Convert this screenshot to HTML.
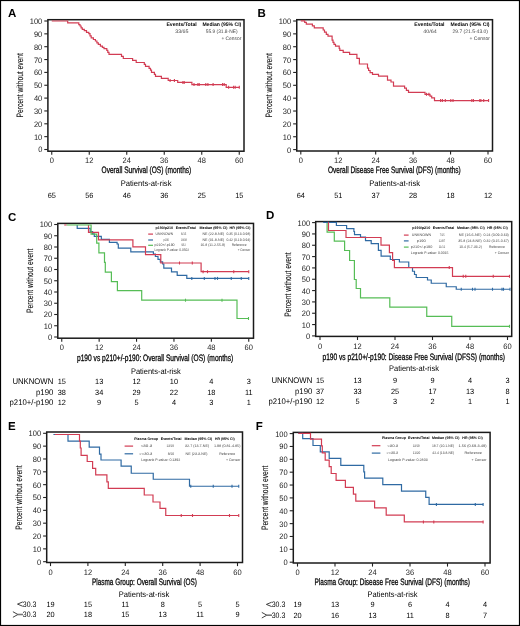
<!DOCTYPE html>
<html><head><meta charset="utf-8"><style>
html,body{margin:0;padding:0;background:#fff;}
svg{display:block;will-change:transform;}
text{font-family:"Liberation Sans",sans-serif;text-rendering:geometricPrecision;}
</style></head><body>
<svg width="520" height="626" viewBox="0 0 520 626">
<rect x="0" y="0" width="520" height="626" fill="#fff"/>
<rect x="0.5" y="0.5" width="519" height="625" fill="none" stroke="#000" stroke-width="1.2"/>
<text x="8.00" y="17.40" font-size="11.5" font-weight="bold" fill="#000">A</text>
<rect x="47.9" y="19.7" width="196.1" height="131.5" fill="none" stroke="#1a1a1a" stroke-width="1.5"/>
<line x1="44.3" y1="149.50" x2="47.9" y2="149.50" stroke="#222" stroke-width="1.1"/>
<text x="42.30" y="152.45" font-size="7.9" text-anchor="end" textLength="4.17" lengthAdjust="spacingAndGlyphs" fill="#222">0</text>
<line x1="44.3" y1="136.65" x2="47.9" y2="136.65" stroke="#222" stroke-width="1.1"/>
<text x="42.30" y="139.60" font-size="7.9" text-anchor="end" textLength="8.35" lengthAdjust="spacingAndGlyphs" fill="#222">10</text>
<line x1="44.3" y1="123.80" x2="47.9" y2="123.80" stroke="#222" stroke-width="1.1"/>
<text x="42.30" y="126.75" font-size="7.9" text-anchor="end" textLength="8.35" lengthAdjust="spacingAndGlyphs" fill="#222">20</text>
<line x1="44.3" y1="110.95" x2="47.9" y2="110.95" stroke="#222" stroke-width="1.1"/>
<text x="42.30" y="113.90" font-size="7.9" text-anchor="end" textLength="8.35" lengthAdjust="spacingAndGlyphs" fill="#222">30</text>
<line x1="44.3" y1="98.10" x2="47.9" y2="98.10" stroke="#222" stroke-width="1.1"/>
<text x="42.30" y="101.05" font-size="7.9" text-anchor="end" textLength="8.35" lengthAdjust="spacingAndGlyphs" fill="#222">40</text>
<line x1="44.3" y1="85.25" x2="47.9" y2="85.25" stroke="#222" stroke-width="1.1"/>
<text x="42.30" y="88.20" font-size="7.9" text-anchor="end" textLength="8.35" lengthAdjust="spacingAndGlyphs" fill="#222">50</text>
<line x1="44.3" y1="72.40" x2="47.9" y2="72.40" stroke="#222" stroke-width="1.1"/>
<text x="42.30" y="75.35" font-size="7.9" text-anchor="end" textLength="8.35" lengthAdjust="spacingAndGlyphs" fill="#222">60</text>
<line x1="44.3" y1="59.55" x2="47.9" y2="59.55" stroke="#222" stroke-width="1.1"/>
<text x="42.30" y="62.50" font-size="7.9" text-anchor="end" textLength="8.35" lengthAdjust="spacingAndGlyphs" fill="#222">70</text>
<line x1="44.3" y1="46.70" x2="47.9" y2="46.70" stroke="#222" stroke-width="1.1"/>
<text x="42.30" y="49.65" font-size="7.9" text-anchor="end" textLength="8.35" lengthAdjust="spacingAndGlyphs" fill="#222">80</text>
<line x1="44.3" y1="33.85" x2="47.9" y2="33.85" stroke="#222" stroke-width="1.1"/>
<text x="42.30" y="36.80" font-size="7.9" text-anchor="end" textLength="8.35" lengthAdjust="spacingAndGlyphs" fill="#222">90</text>
<line x1="44.3" y1="21.00" x2="47.9" y2="21.00" stroke="#222" stroke-width="1.1"/>
<text x="42.30" y="23.95" font-size="7.9" text-anchor="end" textLength="12.52" lengthAdjust="spacingAndGlyphs" fill="#222">100</text>
<line x1="51.75" y1="151.2" x2="51.75" y2="154.79999999999998" stroke="#222" stroke-width="1.1"/>
<text x="51.75" y="162.80" font-size="7.9" text-anchor="middle" textLength="4.17" lengthAdjust="spacingAndGlyphs" fill="#222">0</text>
<line x1="89.25" y1="151.2" x2="89.25" y2="154.79999999999998" stroke="#222" stroke-width="1.1"/>
<text x="89.25" y="162.80" font-size="7.9" text-anchor="middle" textLength="8.35" lengthAdjust="spacingAndGlyphs" fill="#222">12</text>
<line x1="126.75" y1="151.2" x2="126.75" y2="154.79999999999998" stroke="#222" stroke-width="1.1"/>
<text x="126.75" y="162.80" font-size="7.9" text-anchor="middle" textLength="8.35" lengthAdjust="spacingAndGlyphs" fill="#222">24</text>
<line x1="164.25" y1="151.2" x2="164.25" y2="154.79999999999998" stroke="#222" stroke-width="1.1"/>
<text x="164.25" y="162.80" font-size="7.9" text-anchor="middle" textLength="8.35" lengthAdjust="spacingAndGlyphs" fill="#222">36</text>
<line x1="201.75" y1="151.2" x2="201.75" y2="154.79999999999998" stroke="#222" stroke-width="1.1"/>
<text x="201.75" y="162.80" font-size="7.9" text-anchor="middle" textLength="8.35" lengthAdjust="spacingAndGlyphs" fill="#222">48</text>
<line x1="239.25" y1="151.2" x2="239.25" y2="154.79999999999998" stroke="#222" stroke-width="1.1"/>
<text x="239.25" y="162.80" font-size="7.9" text-anchor="middle" textLength="8.35" lengthAdjust="spacingAndGlyphs" fill="#222">60</text>
<text x="0" y="0" font-size="9.3" text-anchor="middle" textLength="64.4" lengthAdjust="spacingAndGlyphs" fill="#111" stroke="#111" stroke-width="0.12" transform="translate(22.80,85.25) rotate(-90)">Percent without event</text>
<text x="101.50" y="172.70" font-size="9.3" textLength="89.80" lengthAdjust="spacingAndGlyphs" stroke="#111" stroke-width="0.3">Overall Survival (OS) (months)</text>
<text x="120.70" y="186.30" font-size="8.1" textLength="50.80" lengthAdjust="spacingAndGlyphs">Patients-at-risk</text>
<text x="51.75" y="197.70" font-size="7.6" text-anchor="middle" textLength="8.20" lengthAdjust="spacingAndGlyphs">65</text>
<text x="89.25" y="197.70" font-size="7.6" text-anchor="middle" textLength="8.20" lengthAdjust="spacingAndGlyphs">56</text>
<text x="126.75" y="197.70" font-size="7.6" text-anchor="middle" textLength="8.20" lengthAdjust="spacingAndGlyphs">46</text>
<text x="164.25" y="197.70" font-size="7.6" text-anchor="middle" textLength="8.20" lengthAdjust="spacingAndGlyphs">36</text>
<text x="201.75" y="197.70" font-size="7.6" text-anchor="middle" textLength="8.20" lengthAdjust="spacingAndGlyphs">25</text>
<text x="239.25" y="197.70" font-size="7.6" text-anchor="middle" textLength="8.20" lengthAdjust="spacingAndGlyphs">15</text>
<text x="166.40" y="26.20" font-size="5.2" font-weight="bold" textLength="30.30" lengthAdjust="spacingAndGlyphs" fill="#000">Events/Total</text>
<text x="202.40" y="26.20" font-size="5.2" font-weight="bold" textLength="38.90" lengthAdjust="spacingAndGlyphs" fill="#000">Median (95% CI)</text>
<text x="175.20" y="32.80" font-size="5.0" textLength="13.30" lengthAdjust="spacingAndGlyphs" fill="#444">33/65</text>
<text x="205.80" y="32.80" font-size="5.0" textLength="31.70" lengthAdjust="spacingAndGlyphs" fill="#444">55.9 (31.8-NE)</text>
<text x="221.40" y="39.60" font-size="5.0" textLength="19.90" lengthAdjust="spacingAndGlyphs" fill="#444">+ Censor</text>
<path d="M51.75,21.00 67.70,21.00 67.70,22.90 78.80,22.90 78.80,24.60 80.00,24.60 80.00,26.00 81.10,26.00 81.10,27.80 82.30,27.80 82.30,29.40 84.30,29.40 84.30,30.60 86.50,30.60 86.50,32.40 88.80,32.40 88.80,33.60 90.00,33.60 90.00,35.80 91.20,35.80 91.20,37.90 93.40,37.90 93.40,39.50 95.40,39.50 95.40,41.00 96.90,41.00 96.90,42.80 98.30,42.80 98.30,44.40 100.40,44.40 100.40,46.20 102.40,46.20 102.40,47.40 104.00,47.40 104.00,48.60 106.80,48.60 106.80,50.40 107.80,50.40 107.80,52.40 109.00,52.40 109.00,54.30 121.50,54.30 121.50,56.30 123.30,56.30 123.30,58.50 132.60,58.50 132.60,60.40 136.20,60.40 136.20,62.50 144.30,62.50 144.30,64.30 145.50,64.30 145.50,66.30 149.10,66.30 149.10,68.30 150.50,68.30 150.50,70.20 151.50,70.20 151.50,72.30 154.40,72.30 154.40,74.30 155.50,74.30 155.50,76.40 161.40,76.40 161.40,78.30 168.20,78.30 168.20,80.50 177.70,80.50 177.70,82.40 191.90,82.40 191.90,84.60 226.20,84.60 226.20,87.30 239.40,87.30" fill="none" stroke="#d23c53" stroke-width="1.2"/>
<line x1="170.10" y1="79.00" x2="170.10" y2="82.00" stroke="#d23c53" stroke-width="1.1"/>
<line x1="174.40" y1="79.00" x2="174.40" y2="82.00" stroke="#d23c53" stroke-width="1.1"/>
<line x1="182.90" y1="80.90" x2="182.90" y2="83.90" stroke="#d23c53" stroke-width="1.1"/>
<line x1="184.20" y1="80.90" x2="184.20" y2="83.90" stroke="#d23c53" stroke-width="1.1"/>
<line x1="194.00" y1="83.10" x2="194.00" y2="86.10" stroke="#d23c53" stroke-width="1.1"/>
<line x1="197.90" y1="83.10" x2="197.90" y2="86.10" stroke="#d23c53" stroke-width="1.1"/>
<line x1="199.20" y1="83.10" x2="199.20" y2="86.10" stroke="#d23c53" stroke-width="1.1"/>
<line x1="205.80" y1="83.10" x2="205.80" y2="86.10" stroke="#d23c53" stroke-width="1.1"/>
<line x1="207.90" y1="83.10" x2="207.90" y2="86.10" stroke="#d23c53" stroke-width="1.1"/>
<line x1="213.10" y1="83.10" x2="213.10" y2="86.10" stroke="#d23c53" stroke-width="1.1"/>
<line x1="222.60" y1="83.10" x2="222.60" y2="86.10" stroke="#d23c53" stroke-width="1.1"/>
<line x1="224.20" y1="83.10" x2="224.20" y2="86.10" stroke="#d23c53" stroke-width="1.1"/>
<line x1="228.60" y1="85.80" x2="228.60" y2="88.80" stroke="#d23c53" stroke-width="1.1"/>
<line x1="233.60" y1="85.80" x2="233.60" y2="88.80" stroke="#d23c53" stroke-width="1.1"/>
<line x1="235.20" y1="85.80" x2="235.20" y2="88.80" stroke="#d23c53" stroke-width="1.1"/>
<line x1="239.30" y1="85.80" x2="239.30" y2="88.80" stroke="#d23c53" stroke-width="1.1"/>
<text x="257.60" y="17.30" font-size="11.5" font-weight="bold" fill="#000">B</text>
<rect x="296.75" y="19.7" width="195.75" height="131.3" fill="none" stroke="#1a1a1a" stroke-width="1.5"/>
<line x1="293.15" y1="149.60" x2="296.75" y2="149.60" stroke="#222" stroke-width="1.1"/>
<text x="291.15" y="152.55" font-size="7.9" text-anchor="end" textLength="4.17" lengthAdjust="spacingAndGlyphs" fill="#222">0</text>
<line x1="293.15" y1="136.74" x2="296.75" y2="136.74" stroke="#222" stroke-width="1.1"/>
<text x="291.15" y="139.69" font-size="7.9" text-anchor="end" textLength="8.35" lengthAdjust="spacingAndGlyphs" fill="#222">10</text>
<line x1="293.15" y1="123.88" x2="296.75" y2="123.88" stroke="#222" stroke-width="1.1"/>
<text x="291.15" y="126.83" font-size="7.9" text-anchor="end" textLength="8.35" lengthAdjust="spacingAndGlyphs" fill="#222">20</text>
<line x1="293.15" y1="111.02" x2="296.75" y2="111.02" stroke="#222" stroke-width="1.1"/>
<text x="291.15" y="113.97" font-size="7.9" text-anchor="end" textLength="8.35" lengthAdjust="spacingAndGlyphs" fill="#222">30</text>
<line x1="293.15" y1="98.16" x2="296.75" y2="98.16" stroke="#222" stroke-width="1.1"/>
<text x="291.15" y="101.11" font-size="7.9" text-anchor="end" textLength="8.35" lengthAdjust="spacingAndGlyphs" fill="#222">40</text>
<line x1="293.15" y1="85.30" x2="296.75" y2="85.30" stroke="#222" stroke-width="1.1"/>
<text x="291.15" y="88.25" font-size="7.9" text-anchor="end" textLength="8.35" lengthAdjust="spacingAndGlyphs" fill="#222">50</text>
<line x1="293.15" y1="72.44" x2="296.75" y2="72.44" stroke="#222" stroke-width="1.1"/>
<text x="291.15" y="75.39" font-size="7.9" text-anchor="end" textLength="8.35" lengthAdjust="spacingAndGlyphs" fill="#222">60</text>
<line x1="293.15" y1="59.58" x2="296.75" y2="59.58" stroke="#222" stroke-width="1.1"/>
<text x="291.15" y="62.53" font-size="7.9" text-anchor="end" textLength="8.35" lengthAdjust="spacingAndGlyphs" fill="#222">70</text>
<line x1="293.15" y1="46.72" x2="296.75" y2="46.72" stroke="#222" stroke-width="1.1"/>
<text x="291.15" y="49.67" font-size="7.9" text-anchor="end" textLength="8.35" lengthAdjust="spacingAndGlyphs" fill="#222">80</text>
<line x1="293.15" y1="33.86" x2="296.75" y2="33.86" stroke="#222" stroke-width="1.1"/>
<text x="291.15" y="36.81" font-size="7.9" text-anchor="end" textLength="8.35" lengthAdjust="spacingAndGlyphs" fill="#222">90</text>
<line x1="293.15" y1="21.00" x2="296.75" y2="21.00" stroke="#222" stroke-width="1.1"/>
<text x="291.15" y="23.95" font-size="7.9" text-anchor="end" textLength="12.52" lengthAdjust="spacingAndGlyphs" fill="#222">100</text>
<line x1="300.80" y1="151.0" x2="300.80" y2="154.6" stroke="#222" stroke-width="1.1"/>
<text x="300.80" y="162.60" font-size="7.9" text-anchor="middle" textLength="4.17" lengthAdjust="spacingAndGlyphs" fill="#222">0</text>
<line x1="338.24" y1="151.0" x2="338.24" y2="154.6" stroke="#222" stroke-width="1.1"/>
<text x="338.24" y="162.60" font-size="7.9" text-anchor="middle" textLength="8.35" lengthAdjust="spacingAndGlyphs" fill="#222">12</text>
<line x1="375.68" y1="151.0" x2="375.68" y2="154.6" stroke="#222" stroke-width="1.1"/>
<text x="375.68" y="162.60" font-size="7.9" text-anchor="middle" textLength="8.35" lengthAdjust="spacingAndGlyphs" fill="#222">24</text>
<line x1="413.12" y1="151.0" x2="413.12" y2="154.6" stroke="#222" stroke-width="1.1"/>
<text x="413.12" y="162.60" font-size="7.9" text-anchor="middle" textLength="8.35" lengthAdjust="spacingAndGlyphs" fill="#222">36</text>
<line x1="450.56" y1="151.0" x2="450.56" y2="154.6" stroke="#222" stroke-width="1.1"/>
<text x="450.56" y="162.60" font-size="7.9" text-anchor="middle" textLength="8.35" lengthAdjust="spacingAndGlyphs" fill="#222">48</text>
<line x1="488.00" y1="151.0" x2="488.00" y2="154.6" stroke="#222" stroke-width="1.1"/>
<text x="488.00" y="162.60" font-size="7.9" text-anchor="middle" textLength="8.35" lengthAdjust="spacingAndGlyphs" fill="#222">60</text>
<text x="0" y="0" font-size="9.3" text-anchor="middle" textLength="64.4" lengthAdjust="spacingAndGlyphs" fill="#111" stroke="#111" stroke-width="0.12" transform="translate(271.65,85.30) rotate(-90)">Percent without event</text>
<text x="328.00" y="172.70" font-size="9.3" textLength="132.75" lengthAdjust="spacingAndGlyphs" stroke="#111" stroke-width="0.3">Overall Disease Free Survival (DFS) (months)</text>
<text x="369.25" y="186.30" font-size="8.1" textLength="50.75" lengthAdjust="spacingAndGlyphs">Patients-at-risk</text>
<text x="300.80" y="197.70" font-size="7.6" text-anchor="middle" textLength="8.20" lengthAdjust="spacingAndGlyphs">64</text>
<text x="338.24" y="197.70" font-size="7.6" text-anchor="middle" textLength="8.20" lengthAdjust="spacingAndGlyphs">51</text>
<text x="375.68" y="197.70" font-size="7.6" text-anchor="middle" textLength="8.20" lengthAdjust="spacingAndGlyphs">37</text>
<text x="413.12" y="197.70" font-size="7.6" text-anchor="middle" textLength="8.20" lengthAdjust="spacingAndGlyphs">28</text>
<text x="450.56" y="197.70" font-size="7.6" text-anchor="middle" textLength="8.20" lengthAdjust="spacingAndGlyphs">18</text>
<text x="488.00" y="197.70" font-size="7.6" text-anchor="middle" textLength="8.20" lengthAdjust="spacingAndGlyphs">12</text>
<text x="414.25" y="26.20" font-size="5.2" font-weight="bold" textLength="30.25" lengthAdjust="spacingAndGlyphs" fill="#000">Events/Total</text>
<text x="450.50" y="26.20" font-size="5.2" font-weight="bold" textLength="39.00" lengthAdjust="spacingAndGlyphs" fill="#000">Median (95% CI)</text>
<text x="423.25" y="32.60" font-size="5.0" textLength="13.50" lengthAdjust="spacingAndGlyphs" fill="#444">40/64</text>
<text x="452.50" y="32.60" font-size="5.0" textLength="35.50" lengthAdjust="spacingAndGlyphs" fill="#444">29.7 (21.5-43.0)</text>
<text x="469.50" y="39.80" font-size="5.0" textLength="20.50" lengthAdjust="spacingAndGlyphs" fill="#444">+ Censor</text>
<path d="M300.80,20.90 304.70,20.90 304.70,22.40 306.30,22.40 306.30,24.20 312.40,24.20 312.40,25.80 314.30,25.80 314.30,27.90 323.20,27.90 323.20,30.00 324.50,30.00 324.50,32.20 326.30,32.20 326.30,34.30 328.00,34.30 328.00,36.10 332.10,36.10 332.10,40.10 333.00,40.10 333.00,42.40 334.00,42.40 334.00,44.40 335.50,44.40 335.50,46.20 339.20,46.20 339.20,48.30 339.80,48.30 339.80,50.40 343.20,50.40 343.20,52.40 349.60,52.40 349.60,54.30 356.90,54.30 356.90,58.30 359.40,58.30 359.40,64.00 367.50,64.00 367.50,68.10 368.60,68.10 368.60,70.50 370.10,70.50 370.10,72.60 372.50,72.60 372.50,74.40 378.50,74.40 378.50,76.20 387.50,76.20 387.50,80.20 391.00,80.20 391.00,82.00 393.50,82.00 393.50,86.20 404.60,86.20 404.60,88.20 406.40,88.20 406.40,90.40 408.50,90.40 408.50,92.30 425.00,92.30 425.00,94.30 430.00,94.30 430.00,96.20 431.70,96.20 431.70,97.80 434.50,97.80 434.50,100.60 489.00,100.60" fill="none" stroke="#d23c53" stroke-width="1.2"/>
<line x1="426.50" y1="92.80" x2="426.50" y2="95.80" stroke="#d23c53" stroke-width="1.1"/>
<line x1="428.90" y1="92.80" x2="428.90" y2="95.80" stroke="#d23c53" stroke-width="1.1"/>
<line x1="440.60" y1="99.10" x2="440.60" y2="102.10" stroke="#d23c53" stroke-width="1.1"/>
<line x1="442.40" y1="99.10" x2="442.40" y2="102.10" stroke="#d23c53" stroke-width="1.1"/>
<line x1="445.30" y1="99.10" x2="445.30" y2="102.10" stroke="#d23c53" stroke-width="1.1"/>
<line x1="450.80" y1="99.10" x2="450.80" y2="102.10" stroke="#d23c53" stroke-width="1.1"/>
<line x1="453.00" y1="99.10" x2="453.00" y2="102.10" stroke="#d23c53" stroke-width="1.1"/>
<line x1="471.80" y1="99.10" x2="471.80" y2="102.10" stroke="#d23c53" stroke-width="1.1"/>
<line x1="473.40" y1="99.10" x2="473.40" y2="102.10" stroke="#d23c53" stroke-width="1.1"/>
<line x1="479.80" y1="99.10" x2="479.80" y2="102.10" stroke="#d23c53" stroke-width="1.1"/>
<line x1="480.90" y1="99.10" x2="480.90" y2="102.10" stroke="#d23c53" stroke-width="1.1"/>
<line x1="483.70" y1="99.10" x2="483.70" y2="102.10" stroke="#d23c53" stroke-width="1.1"/>
<line x1="488.60" y1="99.10" x2="488.60" y2="102.10" stroke="#d23c53" stroke-width="1.1"/>
<text x="8.00" y="220.80" font-size="11.5" font-weight="bold" fill="#000">C</text>
<rect x="57.8" y="223.4" width="195.7" height="114.79999999999998" fill="none" stroke="#1a1a1a" stroke-width="1.5"/>
<line x1="54.199999999999996" y1="337.00" x2="57.8" y2="337.00" stroke="#222" stroke-width="1.1"/>
<text x="52.20" y="339.95" font-size="7.9" text-anchor="end" textLength="4.17" lengthAdjust="spacingAndGlyphs" fill="#222">0</text>
<line x1="54.199999999999996" y1="325.75" x2="57.8" y2="325.75" stroke="#222" stroke-width="1.1"/>
<text x="52.20" y="328.70" font-size="7.9" text-anchor="end" textLength="8.35" lengthAdjust="spacingAndGlyphs" fill="#222">10</text>
<line x1="54.199999999999996" y1="314.50" x2="57.8" y2="314.50" stroke="#222" stroke-width="1.1"/>
<text x="52.20" y="317.45" font-size="7.9" text-anchor="end" textLength="8.35" lengthAdjust="spacingAndGlyphs" fill="#222">20</text>
<line x1="54.199999999999996" y1="303.25" x2="57.8" y2="303.25" stroke="#222" stroke-width="1.1"/>
<text x="52.20" y="306.20" font-size="7.9" text-anchor="end" textLength="8.35" lengthAdjust="spacingAndGlyphs" fill="#222">30</text>
<line x1="54.199999999999996" y1="292.00" x2="57.8" y2="292.00" stroke="#222" stroke-width="1.1"/>
<text x="52.20" y="294.95" font-size="7.9" text-anchor="end" textLength="8.35" lengthAdjust="spacingAndGlyphs" fill="#222">40</text>
<line x1="54.199999999999996" y1="280.75" x2="57.8" y2="280.75" stroke="#222" stroke-width="1.1"/>
<text x="52.20" y="283.70" font-size="7.9" text-anchor="end" textLength="8.35" lengthAdjust="spacingAndGlyphs" fill="#222">50</text>
<line x1="54.199999999999996" y1="269.50" x2="57.8" y2="269.50" stroke="#222" stroke-width="1.1"/>
<text x="52.20" y="272.45" font-size="7.9" text-anchor="end" textLength="8.35" lengthAdjust="spacingAndGlyphs" fill="#222">60</text>
<line x1="54.199999999999996" y1="258.25" x2="57.8" y2="258.25" stroke="#222" stroke-width="1.1"/>
<text x="52.20" y="261.20" font-size="7.9" text-anchor="end" textLength="8.35" lengthAdjust="spacingAndGlyphs" fill="#222">70</text>
<line x1="54.199999999999996" y1="247.00" x2="57.8" y2="247.00" stroke="#222" stroke-width="1.1"/>
<text x="52.20" y="249.95" font-size="7.9" text-anchor="end" textLength="8.35" lengthAdjust="spacingAndGlyphs" fill="#222">80</text>
<line x1="54.199999999999996" y1="235.75" x2="57.8" y2="235.75" stroke="#222" stroke-width="1.1"/>
<text x="52.20" y="238.70" font-size="7.9" text-anchor="end" textLength="8.35" lengthAdjust="spacingAndGlyphs" fill="#222">90</text>
<line x1="54.199999999999996" y1="224.50" x2="57.8" y2="224.50" stroke="#222" stroke-width="1.1"/>
<text x="52.20" y="227.45" font-size="7.9" text-anchor="end" textLength="12.52" lengthAdjust="spacingAndGlyphs" fill="#222">100</text>
<line x1="61.75" y1="338.2" x2="61.75" y2="341.8" stroke="#222" stroke-width="1.1"/>
<text x="61.75" y="350.30" font-size="7.9" text-anchor="middle" textLength="4.17" lengthAdjust="spacingAndGlyphs" fill="#222">0</text>
<line x1="99.15" y1="338.2" x2="99.15" y2="341.8" stroke="#222" stroke-width="1.1"/>
<text x="99.15" y="350.30" font-size="7.9" text-anchor="middle" textLength="8.35" lengthAdjust="spacingAndGlyphs" fill="#222">12</text>
<line x1="136.55" y1="338.2" x2="136.55" y2="341.8" stroke="#222" stroke-width="1.1"/>
<text x="136.55" y="350.30" font-size="7.9" text-anchor="middle" textLength="8.35" lengthAdjust="spacingAndGlyphs" fill="#222">24</text>
<line x1="173.95" y1="338.2" x2="173.95" y2="341.8" stroke="#222" stroke-width="1.1"/>
<text x="173.95" y="350.30" font-size="7.9" text-anchor="middle" textLength="8.35" lengthAdjust="spacingAndGlyphs" fill="#222">36</text>
<line x1="211.35" y1="338.2" x2="211.35" y2="341.8" stroke="#222" stroke-width="1.1"/>
<text x="211.35" y="350.30" font-size="7.9" text-anchor="middle" textLength="8.35" lengthAdjust="spacingAndGlyphs" fill="#222">48</text>
<line x1="248.75" y1="338.2" x2="248.75" y2="341.8" stroke="#222" stroke-width="1.1"/>
<text x="248.75" y="350.30" font-size="7.9" text-anchor="middle" textLength="8.35" lengthAdjust="spacingAndGlyphs" fill="#222">60</text>
<text x="0" y="0" font-size="9.3" text-anchor="middle" textLength="64.4" lengthAdjust="spacingAndGlyphs" fill="#111" stroke="#111" stroke-width="0.12" transform="translate(32.70,280.75) rotate(-90)">Percent without event</text>
<text x="77.00" y="360.60" font-size="9.3" textLength="156.30" lengthAdjust="spacingAndGlyphs" stroke="#111" stroke-width="0.3">p190 vs p210+/-p190: Overall Survival (OS) (months)</text>
<text x="130.90" y="374.30" font-size="8.1" textLength="49.90" lengthAdjust="spacingAndGlyphs">Patients-at-risk</text>
<text x="53.30" y="384.00" font-size="8.2" text-anchor="end" textLength="40.90" lengthAdjust="spacingAndGlyphs">UNKNOWN</text>
<text x="61.75" y="384.00" font-size="7.6" text-anchor="middle" textLength="8.20" lengthAdjust="spacingAndGlyphs">15</text>
<text x="99.15" y="384.00" font-size="7.6" text-anchor="middle" textLength="8.20" lengthAdjust="spacingAndGlyphs">13</text>
<text x="136.55" y="384.00" font-size="7.6" text-anchor="middle" textLength="8.20" lengthAdjust="spacingAndGlyphs">12</text>
<text x="173.95" y="384.00" font-size="7.6" text-anchor="middle" textLength="8.20" lengthAdjust="spacingAndGlyphs">10</text>
<text x="211.35" y="384.00" font-size="7.6" text-anchor="middle" textLength="4.10" lengthAdjust="spacingAndGlyphs">4</text>
<text x="248.75" y="384.00" font-size="7.6" text-anchor="middle" textLength="4.10" lengthAdjust="spacingAndGlyphs">3</text>
<text x="53.30" y="394.60" font-size="8.2" text-anchor="end" textLength="17.24" lengthAdjust="spacingAndGlyphs">p190</text>
<text x="61.75" y="394.60" font-size="7.6" text-anchor="middle" textLength="8.20" lengthAdjust="spacingAndGlyphs">38</text>
<text x="99.15" y="394.60" font-size="7.6" text-anchor="middle" textLength="8.20" lengthAdjust="spacingAndGlyphs">34</text>
<text x="136.55" y="394.60" font-size="7.6" text-anchor="middle" textLength="8.20" lengthAdjust="spacingAndGlyphs">29</text>
<text x="173.95" y="394.60" font-size="7.6" text-anchor="middle" textLength="8.20" lengthAdjust="spacingAndGlyphs">22</text>
<text x="211.35" y="394.60" font-size="7.6" text-anchor="middle" textLength="8.20" lengthAdjust="spacingAndGlyphs">18</text>
<text x="248.75" y="394.60" font-size="7.6" text-anchor="middle" textLength="7.65" lengthAdjust="spacingAndGlyphs">11</text>
<text x="53.30" y="405.20" font-size="8.2" text-anchor="end" textLength="43.74" lengthAdjust="spacingAndGlyphs">p210+/-p190</text>
<text x="61.75" y="405.20" font-size="7.6" text-anchor="middle" textLength="8.20" lengthAdjust="spacingAndGlyphs">12</text>
<text x="99.15" y="405.20" font-size="7.6" text-anchor="middle" textLength="4.10" lengthAdjust="spacingAndGlyphs">9</text>
<text x="136.55" y="405.20" font-size="7.6" text-anchor="middle" textLength="4.10" lengthAdjust="spacingAndGlyphs">5</text>
<text x="173.95" y="405.20" font-size="7.6" text-anchor="middle" textLength="4.10" lengthAdjust="spacingAndGlyphs">4</text>
<text x="211.35" y="405.20" font-size="7.6" text-anchor="middle" textLength="4.10" lengthAdjust="spacingAndGlyphs">3</text>
<text x="248.75" y="405.20" font-size="7.6" text-anchor="middle" textLength="4.10" lengthAdjust="spacingAndGlyphs">1</text>
<text x="155.60" y="228.85" font-size="3.6" font-weight="bold" textLength="17.50" lengthAdjust="spacingAndGlyphs" fill="#000">p190/p210</text>
<text x="175.70" y="228.85" font-size="3.6" font-weight="bold" textLength="20.10" lengthAdjust="spacingAndGlyphs" fill="#000">Events/Total</text>
<text x="199.60" y="228.85" font-size="3.6" font-weight="bold" textLength="27.90" lengthAdjust="spacingAndGlyphs" fill="#000">Median (95% CI)</text>
<text x="229.60" y="228.85" font-size="3.6" font-weight="bold" textLength="20.80" lengthAdjust="spacingAndGlyphs" fill="#000">HR (95% CI)</text>
<line x1="148.2" y1="234.1" x2="153.0" y2="234.1" stroke="#d23c53" stroke-width="1.2"/>
<text x="155.60" y="235.10" font-size="3.6" textLength="17.50" lengthAdjust="spacingAndGlyphs" fill="#444">UNKNOWN</text>
<text x="181.00" y="235.10" font-size="3.6" textLength="5.30" lengthAdjust="spacingAndGlyphs" fill="#444">6/15</text>
<text x="202.50" y="235.10" font-size="3.6" textLength="21.80" lengthAdjust="spacingAndGlyphs" fill="#444">NE (22.8-NE)</text>
<text x="226.40" y="235.10" font-size="3.6" textLength="24.00" lengthAdjust="spacingAndGlyphs" fill="#444">0.35 (0.13-0.98)</text>
<line x1="148.2" y1="240.0" x2="153.0" y2="240.0" stroke="#2f6aa3" stroke-width="1.2"/>
<text x="163.60" y="241.00" font-size="3.6" textLength="5.10" lengthAdjust="spacingAndGlyphs" fill="#444">p190</text>
<text x="181.00" y="241.00" font-size="3.6" textLength="5.70" lengthAdjust="spacingAndGlyphs" fill="#444">18/38</text>
<text x="202.50" y="241.00" font-size="3.6" textLength="21.80" lengthAdjust="spacingAndGlyphs" fill="#444">NE (31.8-NE)</text>
<text x="226.40" y="241.00" font-size="3.6" textLength="24.00" lengthAdjust="spacingAndGlyphs" fill="#444">0.42 (0.19-0.94)</text>
<line x1="148.2" y1="245.3" x2="153.0" y2="245.3" stroke="#56bd56" stroke-width="1.2"/>
<text x="154.50" y="245.80" font-size="3.6" textLength="20.10" lengthAdjust="spacingAndGlyphs" fill="#444">p210+/-p190</text>
<text x="181.40" y="245.80" font-size="3.6" textLength="4.40" lengthAdjust="spacingAndGlyphs" fill="#444">9/12</text>
<text x="200.40" y="245.80" font-size="3.6" textLength="24.60" lengthAdjust="spacingAndGlyphs" fill="#444">16.8 (11.2-55.9)</text>
<text x="231.70" y="245.80" font-size="3.6" textLength="14.80" lengthAdjust="spacingAndGlyphs" fill="#444">Reference</text>
<text x="154.50" y="251.10" font-size="3.6" textLength="34.50" lengthAdjust="spacingAndGlyphs" fill="#444">Logrank P-value: 0.0502</text>
<text x="237.70" y="251.10" font-size="3.6" textLength="12.70" lengthAdjust="spacingAndGlyphs" fill="#444">+ Censor</text>
<path d="M77.20,225.00 77.20,225.00 77.20,228.30 90.20,228.30 90.20,231.50 92.60,231.50 92.60,233.80 94.30,233.80 94.30,236.40 101.30,236.40 101.30,239.40 109.40,239.40 109.40,242.40 117.10,242.40 117.10,244.00 118.30,244.00 118.30,248.20 130.80,248.20 130.80,251.90 153.40,251.90 153.40,254.20 155.40,254.20 155.40,256.50 158.00,256.50 158.00,259.30 160.30,259.30 160.30,261.90 162.60,261.90 162.60,264.00 163.80,264.00 163.80,268.10 171.50,268.10 171.50,271.90 177.20,271.90 177.20,275.30 186.80,275.30 186.80,278.40 248.75,278.40" fill="none" stroke="#2f6aa3" stroke-width="1.2"/>
<line x1="191.80" y1="276.90" x2="191.80" y2="279.90" stroke="#2f6aa3" stroke-width="1.1"/>
<line x1="204.30" y1="276.90" x2="204.30" y2="279.90" stroke="#2f6aa3" stroke-width="1.1"/>
<line x1="215.00" y1="276.90" x2="215.00" y2="279.90" stroke="#2f6aa3" stroke-width="1.1"/>
<line x1="217.50" y1="276.90" x2="217.50" y2="279.90" stroke="#2f6aa3" stroke-width="1.1"/>
<line x1="231.25" y1="276.90" x2="231.25" y2="279.90" stroke="#2f6aa3" stroke-width="1.1"/>
<line x1="241.25" y1="276.90" x2="241.25" y2="279.90" stroke="#2f6aa3" stroke-width="1.1"/>
<line x1="248.75" y1="276.90" x2="248.75" y2="279.90" stroke="#2f6aa3" stroke-width="1.1"/>
<path d="M64.20,225.00 66.70,225.00M88.50,225.00 88.50,225.00 88.50,232.40 98.50,232.40 98.50,239.80 132.90,239.80 132.90,246.80 145.50,246.80 145.50,254.70 160.80,254.70 160.80,263.00 201.10,263.00 201.10,271.70 248.75,271.70" fill="none" stroke="#d23c53" stroke-width="1.2"/>
<line x1="179.50" y1="261.50" x2="179.50" y2="264.50" stroke="#d23c53" stroke-width="1.1"/>
<line x1="192.30" y1="261.50" x2="192.30" y2="264.50" stroke="#d23c53" stroke-width="1.1"/>
<line x1="203.10" y1="270.20" x2="203.10" y2="273.20" stroke="#d23c53" stroke-width="1.1"/>
<line x1="207.50" y1="270.20" x2="207.50" y2="273.20" stroke="#d23c53" stroke-width="1.1"/>
<line x1="233.75" y1="270.20" x2="233.75" y2="273.20" stroke="#d23c53" stroke-width="1.1"/>
<line x1="248.75" y1="270.20" x2="248.75" y2="273.20" stroke="#d23c53" stroke-width="1.1"/>
<path d="M66.70,225.00 91.10,225.00 91.10,234.20 96.70,234.20 96.70,243.20 98.90,243.20 98.90,252.80 104.50,252.80 104.50,262.30 105.30,262.30 105.30,272.10 111.40,272.10 111.40,281.70 117.40,281.70 117.40,290.60 141.70,290.60 141.70,300.20 237.00,300.20 237.00,318.50 248.50,318.50" fill="none" stroke="#56bd56" stroke-width="1.2"/>
<line x1="185.50" y1="298.70" x2="185.50" y2="301.70" stroke="#56bd56" stroke-width="1.1"/>
<line x1="222.00" y1="298.70" x2="222.00" y2="301.70" stroke="#56bd56" stroke-width="1.1"/>
<line x1="248.50" y1="317.00" x2="248.50" y2="320.00" stroke="#56bd56" stroke-width="1.1"/>
<text x="266.00" y="219.30" font-size="11.5" font-weight="bold" fill="#000">D</text>
<rect x="315.7" y="221.6" width="196.0" height="114.79999999999998" fill="none" stroke="#1a1a1a" stroke-width="1.5"/>
<line x1="312.09999999999997" y1="335.90" x2="315.7" y2="335.90" stroke="#222" stroke-width="1.1"/>
<text x="310.10" y="338.85" font-size="7.9" text-anchor="end" textLength="4.17" lengthAdjust="spacingAndGlyphs" fill="#222">0</text>
<line x1="312.09999999999997" y1="324.57" x2="315.7" y2="324.57" stroke="#222" stroke-width="1.1"/>
<text x="310.10" y="327.52" font-size="7.9" text-anchor="end" textLength="8.35" lengthAdjust="spacingAndGlyphs" fill="#222">10</text>
<line x1="312.09999999999997" y1="313.24" x2="315.7" y2="313.24" stroke="#222" stroke-width="1.1"/>
<text x="310.10" y="316.19" font-size="7.9" text-anchor="end" textLength="8.35" lengthAdjust="spacingAndGlyphs" fill="#222">20</text>
<line x1="312.09999999999997" y1="301.91" x2="315.7" y2="301.91" stroke="#222" stroke-width="1.1"/>
<text x="310.10" y="304.86" font-size="7.9" text-anchor="end" textLength="8.35" lengthAdjust="spacingAndGlyphs" fill="#222">30</text>
<line x1="312.09999999999997" y1="290.58" x2="315.7" y2="290.58" stroke="#222" stroke-width="1.1"/>
<text x="310.10" y="293.53" font-size="7.9" text-anchor="end" textLength="8.35" lengthAdjust="spacingAndGlyphs" fill="#222">40</text>
<line x1="312.09999999999997" y1="279.25" x2="315.7" y2="279.25" stroke="#222" stroke-width="1.1"/>
<text x="310.10" y="282.20" font-size="7.9" text-anchor="end" textLength="8.35" lengthAdjust="spacingAndGlyphs" fill="#222">50</text>
<line x1="312.09999999999997" y1="267.92" x2="315.7" y2="267.92" stroke="#222" stroke-width="1.1"/>
<text x="310.10" y="270.87" font-size="7.9" text-anchor="end" textLength="8.35" lengthAdjust="spacingAndGlyphs" fill="#222">60</text>
<line x1="312.09999999999997" y1="256.59" x2="315.7" y2="256.59" stroke="#222" stroke-width="1.1"/>
<text x="310.10" y="259.54" font-size="7.9" text-anchor="end" textLength="8.35" lengthAdjust="spacingAndGlyphs" fill="#222">70</text>
<line x1="312.09999999999997" y1="245.26" x2="315.7" y2="245.26" stroke="#222" stroke-width="1.1"/>
<text x="310.10" y="248.21" font-size="7.9" text-anchor="end" textLength="8.35" lengthAdjust="spacingAndGlyphs" fill="#222">80</text>
<line x1="312.09999999999997" y1="233.93" x2="315.7" y2="233.93" stroke="#222" stroke-width="1.1"/>
<text x="310.10" y="236.88" font-size="7.9" text-anchor="end" textLength="8.35" lengthAdjust="spacingAndGlyphs" fill="#222">90</text>
<line x1="312.09999999999997" y1="222.60" x2="315.7" y2="222.60" stroke="#222" stroke-width="1.1"/>
<text x="310.10" y="225.55" font-size="7.9" text-anchor="end" textLength="12.52" lengthAdjust="spacingAndGlyphs" fill="#222">100</text>
<line x1="320.00" y1="336.4" x2="320.00" y2="340.0" stroke="#222" stroke-width="1.1"/>
<text x="320.00" y="348.80" font-size="7.9" text-anchor="middle" textLength="4.17" lengthAdjust="spacingAndGlyphs" fill="#222">0</text>
<line x1="357.50" y1="336.4" x2="357.50" y2="340.0" stroke="#222" stroke-width="1.1"/>
<text x="357.50" y="348.80" font-size="7.9" text-anchor="middle" textLength="8.35" lengthAdjust="spacingAndGlyphs" fill="#222">12</text>
<line x1="395.00" y1="336.4" x2="395.00" y2="340.0" stroke="#222" stroke-width="1.1"/>
<text x="395.00" y="348.80" font-size="7.9" text-anchor="middle" textLength="8.35" lengthAdjust="spacingAndGlyphs" fill="#222">24</text>
<line x1="432.50" y1="336.4" x2="432.50" y2="340.0" stroke="#222" stroke-width="1.1"/>
<text x="432.50" y="348.80" font-size="7.9" text-anchor="middle" textLength="8.35" lengthAdjust="spacingAndGlyphs" fill="#222">36</text>
<line x1="470.00" y1="336.4" x2="470.00" y2="340.0" stroke="#222" stroke-width="1.1"/>
<text x="470.00" y="348.80" font-size="7.9" text-anchor="middle" textLength="8.35" lengthAdjust="spacingAndGlyphs" fill="#222">48</text>
<line x1="507.50" y1="336.4" x2="507.50" y2="340.0" stroke="#222" stroke-width="1.1"/>
<text x="507.50" y="348.80" font-size="7.9" text-anchor="middle" textLength="8.35" lengthAdjust="spacingAndGlyphs" fill="#222">60</text>
<text x="0" y="0" font-size="9.3" text-anchor="middle" textLength="64.4" lengthAdjust="spacingAndGlyphs" fill="#111" stroke="#111" stroke-width="0.12" transform="translate(290.60,284.60) rotate(-90)">Percent without event</text>
<text x="322.50" y="359.50" font-size="9.3" textLength="182.50" lengthAdjust="spacingAndGlyphs" stroke="#111" stroke-width="0.3">p190 vs p210+/-p190: Disease Free Survival (DFSS) (months)</text>
<text x="389.00" y="371.20" font-size="8.1" textLength="50.00" lengthAdjust="spacingAndGlyphs">Patients-at-risk</text>
<text x="312.30" y="382.60" font-size="8.2" text-anchor="end" textLength="40.90" lengthAdjust="spacingAndGlyphs">UNKNOWN</text>
<text x="320.00" y="382.60" font-size="7.6" text-anchor="middle" textLength="8.20" lengthAdjust="spacingAndGlyphs">15</text>
<text x="357.50" y="382.60" font-size="7.6" text-anchor="middle" textLength="8.20" lengthAdjust="spacingAndGlyphs">13</text>
<text x="395.00" y="382.60" font-size="7.6" text-anchor="middle" textLength="4.10" lengthAdjust="spacingAndGlyphs">9</text>
<text x="432.50" y="382.60" font-size="7.6" text-anchor="middle" textLength="4.10" lengthAdjust="spacingAndGlyphs">9</text>
<text x="470.00" y="382.60" font-size="7.6" text-anchor="middle" textLength="4.10" lengthAdjust="spacingAndGlyphs">4</text>
<text x="507.50" y="382.60" font-size="7.6" text-anchor="middle" textLength="4.10" lengthAdjust="spacingAndGlyphs">3</text>
<text x="312.30" y="393.60" font-size="8.2" text-anchor="end" textLength="17.24" lengthAdjust="spacingAndGlyphs">p190</text>
<text x="320.00" y="393.60" font-size="7.6" text-anchor="middle" textLength="8.20" lengthAdjust="spacingAndGlyphs">37</text>
<text x="357.50" y="393.60" font-size="7.6" text-anchor="middle" textLength="8.20" lengthAdjust="spacingAndGlyphs">33</text>
<text x="395.00" y="393.60" font-size="7.6" text-anchor="middle" textLength="8.20" lengthAdjust="spacingAndGlyphs">25</text>
<text x="432.50" y="393.60" font-size="7.6" text-anchor="middle" textLength="8.20" lengthAdjust="spacingAndGlyphs">17</text>
<text x="470.00" y="393.60" font-size="7.6" text-anchor="middle" textLength="8.20" lengthAdjust="spacingAndGlyphs">13</text>
<text x="507.50" y="393.60" font-size="7.6" text-anchor="middle" textLength="4.10" lengthAdjust="spacingAndGlyphs">8</text>
<text x="312.30" y="403.80" font-size="8.2" text-anchor="end" textLength="43.74" lengthAdjust="spacingAndGlyphs">p210+/-p190</text>
<text x="320.00" y="403.80" font-size="7.6" text-anchor="middle" textLength="8.20" lengthAdjust="spacingAndGlyphs">12</text>
<text x="357.50" y="403.80" font-size="7.6" text-anchor="middle" textLength="4.10" lengthAdjust="spacingAndGlyphs">5</text>
<text x="395.00" y="403.80" font-size="7.6" text-anchor="middle" textLength="4.10" lengthAdjust="spacingAndGlyphs">3</text>
<text x="432.50" y="403.80" font-size="7.6" text-anchor="middle" textLength="4.10" lengthAdjust="spacingAndGlyphs">2</text>
<text x="470.00" y="403.80" font-size="7.6" text-anchor="middle" textLength="4.10" lengthAdjust="spacingAndGlyphs">1</text>
<text x="507.50" y="403.80" font-size="7.6" text-anchor="middle" textLength="4.10" lengthAdjust="spacingAndGlyphs">1</text>
<text x="412.30" y="228.65" font-size="3.6" font-weight="bold" textLength="17.90" lengthAdjust="spacingAndGlyphs" fill="#000">p190/p210</text>
<text x="432.70" y="228.65" font-size="3.6" font-weight="bold" textLength="21.60" lengthAdjust="spacingAndGlyphs" fill="#000">Events/Total</text>
<text x="457.10" y="228.65" font-size="3.6" font-weight="bold" textLength="27.50" lengthAdjust="spacingAndGlyphs" fill="#000">Median (95% CI)</text>
<text x="487.20" y="228.65" font-size="3.6" font-weight="bold" textLength="20.50" lengthAdjust="spacingAndGlyphs" fill="#000">HR (95% CI)</text>
<line x1="403.9" y1="235.1" x2="408.6" y2="235.1" stroke="#d23c53" stroke-width="1.2"/>
<text x="411.80" y="236.10" font-size="3.6" textLength="19.40" lengthAdjust="spacingAndGlyphs" fill="#444">UNKNOWN</text>
<text x="439.80" y="236.10" font-size="3.6" textLength="4.80" lengthAdjust="spacingAndGlyphs" fill="#444">7/15</text>
<text x="458.80" y="236.10" font-size="3.6" textLength="22.60" lengthAdjust="spacingAndGlyphs" fill="#444">NE (16.6-NE)</text>
<text x="483.60" y="236.10" font-size="3.6" textLength="25.20" lengthAdjust="spacingAndGlyphs" fill="#444">0.24 (0.09-0.63)</text>
<line x1="403.9" y1="240.9" x2="408.6" y2="240.9" stroke="#2f6aa3" stroke-width="1.2"/>
<text x="416.80" y="241.90" font-size="3.6" textLength="9.00" lengthAdjust="spacingAndGlyphs" fill="#444">p190</text>
<text x="438.80" y="241.90" font-size="3.6" textLength="6.40" lengthAdjust="spacingAndGlyphs" fill="#444">22/37</text>
<text x="458.20" y="241.90" font-size="3.6" textLength="23.60" lengthAdjust="spacingAndGlyphs" fill="#444">35.8 (24.8-NE)</text>
<text x="483.60" y="241.90" font-size="3.6" textLength="25.20" lengthAdjust="spacingAndGlyphs" fill="#444">0.32 (0.15-0.67)</text>
<line x1="403.9" y1="247.1" x2="408.6" y2="247.1" stroke="#56bd56" stroke-width="1.2"/>
<text x="410.80" y="248.10" font-size="3.6" textLength="21.50" lengthAdjust="spacingAndGlyphs" fill="#444">p210+/-p190</text>
<text x="438.80" y="248.10" font-size="3.6" textLength="6.40" lengthAdjust="spacingAndGlyphs" fill="#444">11/12</text>
<text x="459.20" y="248.10" font-size="3.6" textLength="22.60" lengthAdjust="spacingAndGlyphs" fill="#444">10.4 (5.7-33.2)</text>
<text x="489.00" y="248.10" font-size="3.6" textLength="15.90" lengthAdjust="spacingAndGlyphs" fill="#444">Reference</text>
<text x="410.80" y="253.70" font-size="3.6" textLength="37.70" lengthAdjust="spacingAndGlyphs" fill="#444">Logrank P-value: 0.0015</text>
<text x="494.80" y="253.70" font-size="3.6" textLength="14.00" lengthAdjust="spacingAndGlyphs" fill="#444">+ Censor</text>
<path d="M326.90,222.30 327.10,222.30 327.10,232.20 334.30,232.20 334.30,241.20 344.60,241.20 344.60,250.50 349.60,250.50 349.60,260.50 354.40,260.50 354.40,279.50 356.20,279.50 356.20,288.50 360.50,288.50 360.50,297.90 389.80,297.90 389.80,307.20 426.75,307.20 426.75,316.30 451.75,316.30 451.75,326.30 509.50,326.30" fill="none" stroke="#56bd56" stroke-width="1.2"/>
<line x1="509.50" y1="324.80" x2="509.50" y2="327.80" stroke="#56bd56" stroke-width="1.1"/>
<path d="M323.20,222.30 336.40,222.30 336.40,225.50 346.60,225.50 346.60,228.60 353.90,228.60 353.90,231.50 354.50,231.50 354.50,234.60 360.50,234.60 360.50,237.10 365.50,237.10 365.50,240.70 371.20,240.70 371.20,243.60 378.40,243.60 378.40,250.30 381.10,250.30 381.10,256.10 390.30,256.10 390.30,259.50 399.40,259.50 399.40,262.00 408.75,262.00 408.75,267.50 412.50,267.50 412.50,271.25 414.50,271.25 414.50,274.50 416.25,274.50 416.25,277.50 427.50,277.50 427.50,280.00 431.25,280.00 431.25,283.25 446.25,283.25 446.25,286.75 456.25,286.75 456.25,289.25 510.00,289.25" fill="none" stroke="#2f6aa3" stroke-width="1.2"/>
<line x1="461.25" y1="287.75" x2="461.25" y2="290.75" stroke="#2f6aa3" stroke-width="1.1"/>
<line x1="472.50" y1="287.75" x2="472.50" y2="290.75" stroke="#2f6aa3" stroke-width="1.1"/>
<line x1="475.00" y1="287.75" x2="475.00" y2="290.75" stroke="#2f6aa3" stroke-width="1.1"/>
<line x1="492.50" y1="287.75" x2="492.50" y2="290.75" stroke="#2f6aa3" stroke-width="1.1"/>
<line x1="502.00" y1="287.75" x2="502.00" y2="290.75" stroke="#2f6aa3" stroke-width="1.1"/>
<line x1="503.50" y1="287.75" x2="503.50" y2="290.75" stroke="#2f6aa3" stroke-width="1.1"/>
<line x1="510.00" y1="287.75" x2="510.00" y2="290.75" stroke="#2f6aa3" stroke-width="1.1"/>
<path d="M328.30,222.30 328.50,222.30 328.50,230.50 346.00,230.50 346.00,237.50 381.00,237.50 381.00,245.20 389.40,245.20 389.40,252.60 392.60,252.60 392.60,260.30 394.40,260.30 394.40,267.60 452.50,267.60 452.50,276.30 510.00,276.30" fill="none" stroke="#d23c53" stroke-width="1.2"/>
<line x1="449.25" y1="266.10" x2="449.25" y2="269.10" stroke="#d23c53" stroke-width="1.1"/>
<line x1="463.25" y1="274.80" x2="463.25" y2="277.80" stroke="#d23c53" stroke-width="1.1"/>
<line x1="465.75" y1="274.80" x2="465.75" y2="277.80" stroke="#d23c53" stroke-width="1.1"/>
<line x1="493.25" y1="274.80" x2="493.25" y2="277.80" stroke="#d23c53" stroke-width="1.1"/>
<line x1="509.50" y1="274.80" x2="509.50" y2="277.80" stroke="#d23c53" stroke-width="1.1"/>
<text x="8.00" y="430.20" font-size="11.5" font-weight="bold" fill="#000">E</text>
<rect x="46.7" y="432.0" width="195.8" height="130.5" fill="none" stroke="#1a1a1a" stroke-width="1.5"/>
<line x1="43.1" y1="561.70" x2="46.7" y2="561.70" stroke="#222" stroke-width="1.1"/>
<text x="41.10" y="564.65" font-size="7.9" text-anchor="end" textLength="4.17" lengthAdjust="spacingAndGlyphs" fill="#222">0</text>
<line x1="43.1" y1="548.86" x2="46.7" y2="548.86" stroke="#222" stroke-width="1.1"/>
<text x="41.10" y="551.81" font-size="7.9" text-anchor="end" textLength="8.35" lengthAdjust="spacingAndGlyphs" fill="#222">10</text>
<line x1="43.1" y1="536.02" x2="46.7" y2="536.02" stroke="#222" stroke-width="1.1"/>
<text x="41.10" y="538.97" font-size="7.9" text-anchor="end" textLength="8.35" lengthAdjust="spacingAndGlyphs" fill="#222">20</text>
<line x1="43.1" y1="523.18" x2="46.7" y2="523.18" stroke="#222" stroke-width="1.1"/>
<text x="41.10" y="526.13" font-size="7.9" text-anchor="end" textLength="8.35" lengthAdjust="spacingAndGlyphs" fill="#222">30</text>
<line x1="43.1" y1="510.34" x2="46.7" y2="510.34" stroke="#222" stroke-width="1.1"/>
<text x="41.10" y="513.29" font-size="7.9" text-anchor="end" textLength="8.35" lengthAdjust="spacingAndGlyphs" fill="#222">40</text>
<line x1="43.1" y1="497.50" x2="46.7" y2="497.50" stroke="#222" stroke-width="1.1"/>
<text x="41.10" y="500.45" font-size="7.9" text-anchor="end" textLength="8.35" lengthAdjust="spacingAndGlyphs" fill="#222">50</text>
<line x1="43.1" y1="484.66" x2="46.7" y2="484.66" stroke="#222" stroke-width="1.1"/>
<text x="41.10" y="487.61" font-size="7.9" text-anchor="end" textLength="8.35" lengthAdjust="spacingAndGlyphs" fill="#222">60</text>
<line x1="43.1" y1="471.82" x2="46.7" y2="471.82" stroke="#222" stroke-width="1.1"/>
<text x="41.10" y="474.77" font-size="7.9" text-anchor="end" textLength="8.35" lengthAdjust="spacingAndGlyphs" fill="#222">70</text>
<line x1="43.1" y1="458.98" x2="46.7" y2="458.98" stroke="#222" stroke-width="1.1"/>
<text x="41.10" y="461.93" font-size="7.9" text-anchor="end" textLength="8.35" lengthAdjust="spacingAndGlyphs" fill="#222">80</text>
<line x1="43.1" y1="446.14" x2="46.7" y2="446.14" stroke="#222" stroke-width="1.1"/>
<text x="41.10" y="449.09" font-size="7.9" text-anchor="end" textLength="8.35" lengthAdjust="spacingAndGlyphs" fill="#222">90</text>
<line x1="43.1" y1="433.30" x2="46.7" y2="433.30" stroke="#222" stroke-width="1.1"/>
<text x="41.10" y="436.25" font-size="7.9" text-anchor="end" textLength="12.52" lengthAdjust="spacingAndGlyphs" fill="#222">100</text>
<line x1="50.50" y1="562.5" x2="50.50" y2="566.1" stroke="#222" stroke-width="1.1"/>
<text x="50.50" y="574.90" font-size="7.9" text-anchor="middle" textLength="4.17" lengthAdjust="spacingAndGlyphs" fill="#222">0</text>
<line x1="87.90" y1="562.5" x2="87.90" y2="566.1" stroke="#222" stroke-width="1.1"/>
<text x="87.90" y="574.90" font-size="7.9" text-anchor="middle" textLength="8.35" lengthAdjust="spacingAndGlyphs" fill="#222">12</text>
<line x1="125.30" y1="562.5" x2="125.30" y2="566.1" stroke="#222" stroke-width="1.1"/>
<text x="125.30" y="574.90" font-size="7.9" text-anchor="middle" textLength="8.35" lengthAdjust="spacingAndGlyphs" fill="#222">24</text>
<line x1="162.70" y1="562.5" x2="162.70" y2="566.1" stroke="#222" stroke-width="1.1"/>
<text x="162.70" y="574.90" font-size="7.9" text-anchor="middle" textLength="8.35" lengthAdjust="spacingAndGlyphs" fill="#222">36</text>
<line x1="200.10" y1="562.5" x2="200.10" y2="566.1" stroke="#222" stroke-width="1.1"/>
<text x="200.10" y="574.90" font-size="7.9" text-anchor="middle" textLength="8.35" lengthAdjust="spacingAndGlyphs" fill="#222">48</text>
<line x1="237.50" y1="562.5" x2="237.50" y2="566.1" stroke="#222" stroke-width="1.1"/>
<text x="237.50" y="574.90" font-size="7.9" text-anchor="middle" textLength="8.35" lengthAdjust="spacingAndGlyphs" fill="#222">60</text>
<text x="0" y="0" font-size="9.3" text-anchor="middle" textLength="64.4" lengthAdjust="spacingAndGlyphs" fill="#111" stroke="#111" stroke-width="0.12" transform="translate(21.60,497.50) rotate(-90)">Percent without event</text>
<text x="92.00" y="585.00" font-size="9.3" textLength="105.00" lengthAdjust="spacingAndGlyphs" stroke="#111" stroke-width="0.3">Plasma Group: Overall Survival (OS)</text>
<text x="118.75" y="596.50" font-size="8.1" textLength="50.50" lengthAdjust="spacingAndGlyphs">Patients-at-risk</text>
<text x="36.40" y="606.90" font-size="8.0" text-anchor="end" textLength="13.60" lengthAdjust="spacingAndGlyphs">30.3</text>
<polyline points="22.80,601.90 17.50,604.10 22.80,606.30" fill="none" stroke="#222" stroke-width="0.85"/>
<text x="50.50" y="606.90" font-size="7.6" text-anchor="middle" textLength="8.20" lengthAdjust="spacingAndGlyphs">19</text>
<text x="87.90" y="606.90" font-size="7.6" text-anchor="middle" textLength="8.20" lengthAdjust="spacingAndGlyphs">15</text>
<text x="125.30" y="606.90" font-size="7.6" text-anchor="middle" textLength="7.65" lengthAdjust="spacingAndGlyphs">11</text>
<text x="162.70" y="606.90" font-size="7.6" text-anchor="middle" textLength="4.10" lengthAdjust="spacingAndGlyphs">8</text>
<text x="200.10" y="606.90" font-size="7.6" text-anchor="middle" textLength="4.10" lengthAdjust="spacingAndGlyphs">5</text>
<text x="237.50" y="606.90" font-size="7.6" text-anchor="middle" textLength="4.10" lengthAdjust="spacingAndGlyphs">5</text>
<text x="36.40" y="617.30" font-size="8.0" text-anchor="end" textLength="13.60" lengthAdjust="spacingAndGlyphs">30.3</text>
<polyline points="12.90,611.70 17.90,614.50 12.90,617.30" fill="none" stroke="#222" stroke-width="0.85"/>
<line x1="17.50" y1="614.50" x2="23.10" y2="614.50" stroke="#777" stroke-width="1.6"/>
<text x="50.50" y="617.30" font-size="7.6" text-anchor="middle" textLength="8.20" lengthAdjust="spacingAndGlyphs">20</text>
<text x="87.90" y="617.30" font-size="7.6" text-anchor="middle" textLength="8.20" lengthAdjust="spacingAndGlyphs">18</text>
<text x="125.30" y="617.30" font-size="7.6" text-anchor="middle" textLength="8.20" lengthAdjust="spacingAndGlyphs">15</text>
<text x="162.70" y="617.30" font-size="7.6" text-anchor="middle" textLength="8.20" lengthAdjust="spacingAndGlyphs">13</text>
<text x="200.10" y="617.30" font-size="7.6" text-anchor="middle" textLength="7.65" lengthAdjust="spacingAndGlyphs">11</text>
<text x="237.50" y="617.30" font-size="7.6" text-anchor="middle" textLength="4.10" lengthAdjust="spacingAndGlyphs">9</text>
<text x="134.20" y="440.05" font-size="3.6" font-weight="bold" textLength="23.80" lengthAdjust="spacingAndGlyphs" fill="#000">Plasma Group</text>
<text x="160.80" y="440.05" font-size="3.6" font-weight="bold" textLength="20.70" lengthAdjust="spacingAndGlyphs" fill="#000">Events/Total</text>
<text x="184.50" y="440.05" font-size="3.6" font-weight="bold" textLength="27.70" lengthAdjust="spacingAndGlyphs" fill="#000">Median (95% CI)</text>
<text x="215.00" y="440.05" font-size="3.6" font-weight="bold" textLength="19.60" lengthAdjust="spacingAndGlyphs" fill="#000">HR (95% CI)</text>
<line x1="124.6" y1="446.1" x2="133.1" y2="446.1" stroke="#d23c53" stroke-width="1.2"/>
<text x="140.70" y="447.20" font-size="3.6" textLength="11.50" lengthAdjust="spacingAndGlyphs" fill="#444">&lt;30.3</text>
<text x="166.50" y="447.20" font-size="3.6" textLength="7.40" lengthAdjust="spacingAndGlyphs" fill="#444">13/19</text>
<text x="185.00" y="447.20" font-size="3.6" textLength="24.20" lengthAdjust="spacingAndGlyphs" fill="#444">32.7 (13.7-NE)</text>
<text x="213.90" y="447.20" font-size="3.6" textLength="26.50" lengthAdjust="spacingAndGlyphs" fill="#444">1.98 (0.81-4.85)</text>
<line x1="124.6" y1="453.8" x2="133.1" y2="453.8" stroke="#2f6aa3" stroke-width="1.2"/>
<text x="139.30" y="454.50" font-size="3.6" textLength="12.90" lengthAdjust="spacingAndGlyphs" fill="#444">&gt;=30.3</text>
<text x="167.70" y="454.50" font-size="3.6" textLength="6.50" lengthAdjust="spacingAndGlyphs" fill="#444">8/20</text>
<text x="185.50" y="454.50" font-size="3.6" textLength="22.10" lengthAdjust="spacingAndGlyphs" fill="#444">NE (23.3-NE)</text>
<text x="219.20" y="454.50" font-size="3.6" textLength="16.10" lengthAdjust="spacingAndGlyphs" fill="#444">Reference</text>
<text x="141.20" y="461.00" font-size="3.6" textLength="39.20" lengthAdjust="spacingAndGlyphs" fill="#444">Logrank P-value: 0.1392</text>
<text x="225.90" y="461.00" font-size="3.6" textLength="14.50" lengthAdjust="spacingAndGlyphs" fill="#444">+ Censor</text>
<path d="M53.40,434.50 68.00,434.50 68.00,441.10 89.20,441.10 89.20,447.20 99.50,447.20 99.50,454.20 101.00,454.20 101.00,460.00 121.10,460.00 121.10,466.20 131.25,466.20 131.25,473.25 153.25,473.25 153.25,479.25 189.50,479.25 189.50,486.25 238.75,486.25" fill="none" stroke="#2f6aa3" stroke-width="1.2"/>
<line x1="190.75" y1="484.75" x2="190.75" y2="487.75" stroke="#2f6aa3" stroke-width="1.1"/>
<line x1="213.25" y1="484.75" x2="213.25" y2="487.75" stroke="#2f6aa3" stroke-width="1.1"/>
<line x1="232.00" y1="484.75" x2="232.00" y2="487.75" stroke="#2f6aa3" stroke-width="1.1"/>
<line x1="238.75" y1="484.75" x2="238.75" y2="487.75" stroke="#2f6aa3" stroke-width="1.1"/>
<path d="M54.90,434.50 79.50,434.50 79.50,441.10 80.30,441.10 80.30,448.00 81.10,448.00 81.10,455.40 87.20,455.40 87.20,461.50 92.60,461.50 92.60,468.30 95.70,468.30 95.70,474.90 106.90,474.90 106.90,481.80 108.30,481.80 108.30,488.40 144.25,488.40 144.25,495.00 153.00,495.00 153.00,502.00 160.00,502.00 160.00,508.30 165.75,508.30 165.75,515.50 238.75,515.50" fill="none" stroke="#d23c53" stroke-width="1.2"/>
<line x1="181.25" y1="514.00" x2="181.25" y2="517.00" stroke="#d23c53" stroke-width="1.1"/>
<line x1="192.50" y1="514.00" x2="192.50" y2="517.00" stroke="#d23c53" stroke-width="1.1"/>
<line x1="229.50" y1="514.00" x2="229.50" y2="517.00" stroke="#d23c53" stroke-width="1.1"/>
<line x1="238.75" y1="514.00" x2="238.75" y2="517.00" stroke="#d23c53" stroke-width="1.1"/>
<text x="255.80" y="430.20" font-size="11.5" font-weight="bold" fill="#000">F</text>
<rect x="293.3" y="432.4" width="196.8" height="130.60000000000002" fill="none" stroke="#1a1a1a" stroke-width="1.5"/>
<line x1="289.7" y1="562.20" x2="293.3" y2="562.20" stroke="#222" stroke-width="1.1"/>
<text x="287.70" y="565.15" font-size="7.9" text-anchor="end" textLength="4.17" lengthAdjust="spacingAndGlyphs" fill="#222">0</text>
<line x1="289.7" y1="549.34" x2="293.3" y2="549.34" stroke="#222" stroke-width="1.1"/>
<text x="287.70" y="552.29" font-size="7.9" text-anchor="end" textLength="8.35" lengthAdjust="spacingAndGlyphs" fill="#222">10</text>
<line x1="289.7" y1="536.48" x2="293.3" y2="536.48" stroke="#222" stroke-width="1.1"/>
<text x="287.70" y="539.43" font-size="7.9" text-anchor="end" textLength="8.35" lengthAdjust="spacingAndGlyphs" fill="#222">20</text>
<line x1="289.7" y1="523.62" x2="293.3" y2="523.62" stroke="#222" stroke-width="1.1"/>
<text x="287.70" y="526.57" font-size="7.9" text-anchor="end" textLength="8.35" lengthAdjust="spacingAndGlyphs" fill="#222">30</text>
<line x1="289.7" y1="510.76" x2="293.3" y2="510.76" stroke="#222" stroke-width="1.1"/>
<text x="287.70" y="513.71" font-size="7.9" text-anchor="end" textLength="8.35" lengthAdjust="spacingAndGlyphs" fill="#222">40</text>
<line x1="289.7" y1="497.90" x2="293.3" y2="497.90" stroke="#222" stroke-width="1.1"/>
<text x="287.70" y="500.85" font-size="7.9" text-anchor="end" textLength="8.35" lengthAdjust="spacingAndGlyphs" fill="#222">50</text>
<line x1="289.7" y1="485.04" x2="293.3" y2="485.04" stroke="#222" stroke-width="1.1"/>
<text x="287.70" y="487.99" font-size="7.9" text-anchor="end" textLength="8.35" lengthAdjust="spacingAndGlyphs" fill="#222">60</text>
<line x1="289.7" y1="472.18" x2="293.3" y2="472.18" stroke="#222" stroke-width="1.1"/>
<text x="287.70" y="475.13" font-size="7.9" text-anchor="end" textLength="8.35" lengthAdjust="spacingAndGlyphs" fill="#222">70</text>
<line x1="289.7" y1="459.32" x2="293.3" y2="459.32" stroke="#222" stroke-width="1.1"/>
<text x="287.70" y="462.27" font-size="7.9" text-anchor="end" textLength="8.35" lengthAdjust="spacingAndGlyphs" fill="#222">80</text>
<line x1="289.7" y1="446.46" x2="293.3" y2="446.46" stroke="#222" stroke-width="1.1"/>
<text x="287.70" y="449.41" font-size="7.9" text-anchor="end" textLength="8.35" lengthAdjust="spacingAndGlyphs" fill="#222">90</text>
<line x1="289.7" y1="433.60" x2="293.3" y2="433.60" stroke="#222" stroke-width="1.1"/>
<text x="287.70" y="436.55" font-size="7.9" text-anchor="end" textLength="12.52" lengthAdjust="spacingAndGlyphs" fill="#222">100</text>
<line x1="297.50" y1="563.0" x2="297.50" y2="566.6" stroke="#222" stroke-width="1.1"/>
<text x="297.50" y="575.00" font-size="7.9" text-anchor="middle" textLength="4.17" lengthAdjust="spacingAndGlyphs" fill="#222">0</text>
<line x1="335.00" y1="563.0" x2="335.00" y2="566.6" stroke="#222" stroke-width="1.1"/>
<text x="335.00" y="575.00" font-size="7.9" text-anchor="middle" textLength="8.35" lengthAdjust="spacingAndGlyphs" fill="#222">12</text>
<line x1="372.50" y1="563.0" x2="372.50" y2="566.6" stroke="#222" stroke-width="1.1"/>
<text x="372.50" y="575.00" font-size="7.9" text-anchor="middle" textLength="8.35" lengthAdjust="spacingAndGlyphs" fill="#222">24</text>
<line x1="410.00" y1="563.0" x2="410.00" y2="566.6" stroke="#222" stroke-width="1.1"/>
<text x="410.00" y="575.00" font-size="7.9" text-anchor="middle" textLength="8.35" lengthAdjust="spacingAndGlyphs" fill="#222">36</text>
<line x1="447.50" y1="563.0" x2="447.50" y2="566.6" stroke="#222" stroke-width="1.1"/>
<text x="447.50" y="575.00" font-size="7.9" text-anchor="middle" textLength="8.35" lengthAdjust="spacingAndGlyphs" fill="#222">48</text>
<line x1="485.00" y1="563.0" x2="485.00" y2="566.6" stroke="#222" stroke-width="1.1"/>
<text x="485.00" y="575.00" font-size="7.9" text-anchor="middle" textLength="8.35" lengthAdjust="spacingAndGlyphs" fill="#222">60</text>
<text x="0" y="0" font-size="9.3" text-anchor="middle" textLength="64.4" lengthAdjust="spacingAndGlyphs" fill="#111" stroke="#111" stroke-width="0.12" transform="translate(268.20,497.90) rotate(-90)">Percent without event</text>
<text x="314.50" y="585.30" font-size="9.3" textLength="155.50" lengthAdjust="spacingAndGlyphs" stroke="#111" stroke-width="0.3">Plasma Group: Disease Free Survival (DFS) (months)</text>
<text x="367.50" y="597.00" font-size="8.1" textLength="50.00" lengthAdjust="spacingAndGlyphs">Patients-at-risk</text>
<text x="285.30" y="607.20" font-size="8.0" text-anchor="end" textLength="13.60" lengthAdjust="spacingAndGlyphs">30.3</text>
<polyline points="271.70,602.20 266.40,604.40 271.70,606.60" fill="none" stroke="#222" stroke-width="0.85"/>
<text x="297.50" y="607.20" font-size="7.6" text-anchor="middle" textLength="8.20" lengthAdjust="spacingAndGlyphs">19</text>
<text x="335.00" y="607.20" font-size="7.6" text-anchor="middle" textLength="8.20" lengthAdjust="spacingAndGlyphs">13</text>
<text x="372.50" y="607.20" font-size="7.6" text-anchor="middle" textLength="4.10" lengthAdjust="spacingAndGlyphs">9</text>
<text x="410.00" y="607.20" font-size="7.6" text-anchor="middle" textLength="4.10" lengthAdjust="spacingAndGlyphs">6</text>
<text x="447.50" y="607.20" font-size="7.6" text-anchor="middle" textLength="4.10" lengthAdjust="spacingAndGlyphs">4</text>
<text x="485.00" y="607.20" font-size="7.6" text-anchor="middle" textLength="4.10" lengthAdjust="spacingAndGlyphs">4</text>
<text x="285.30" y="618.00" font-size="8.0" text-anchor="end" textLength="13.60" lengthAdjust="spacingAndGlyphs">30.3</text>
<polyline points="261.80,612.40 266.80,615.20 261.80,618.00" fill="none" stroke="#222" stroke-width="0.85"/>
<line x1="266.40" y1="615.20" x2="272.00" y2="615.20" stroke="#777" stroke-width="1.6"/>
<text x="297.50" y="618.00" font-size="7.6" text-anchor="middle" textLength="8.20" lengthAdjust="spacingAndGlyphs">20</text>
<text x="335.00" y="618.00" font-size="7.6" text-anchor="middle" textLength="8.20" lengthAdjust="spacingAndGlyphs">16</text>
<text x="372.50" y="618.00" font-size="7.6" text-anchor="middle" textLength="8.20" lengthAdjust="spacingAndGlyphs">13</text>
<text x="410.00" y="618.00" font-size="7.6" text-anchor="middle" textLength="7.65" lengthAdjust="spacingAndGlyphs">11</text>
<text x="447.50" y="618.00" font-size="7.6" text-anchor="middle" textLength="4.10" lengthAdjust="spacingAndGlyphs">8</text>
<text x="485.00" y="618.00" font-size="7.6" text-anchor="middle" textLength="4.10" lengthAdjust="spacingAndGlyphs">7</text>
<text x="382.00" y="439.15" font-size="3.6" font-weight="bold" textLength="23.80" lengthAdjust="spacingAndGlyphs" fill="#000">Plasma Group</text>
<text x="408.10" y="439.15" font-size="3.6" font-weight="bold" textLength="21.40" lengthAdjust="spacingAndGlyphs" fill="#000">Events/Total</text>
<text x="431.90" y="439.15" font-size="3.6" font-weight="bold" textLength="27.60" lengthAdjust="spacingAndGlyphs" fill="#000">Median (95% CI)</text>
<text x="462.30" y="439.15" font-size="3.6" font-weight="bold" textLength="20.30" lengthAdjust="spacingAndGlyphs" fill="#000">HR (95% CI)</text>
<line x1="371.8" y1="445.7" x2="380.4" y2="445.7" stroke="#d23c53" stroke-width="1.2"/>
<text x="387.30" y="446.70" font-size="3.6" textLength="10.90" lengthAdjust="spacingAndGlyphs" fill="#444">&lt;30.3</text>
<text x="412.70" y="446.70" font-size="3.6" textLength="6.90" lengthAdjust="spacingAndGlyphs" fill="#444">13/19</text>
<text x="431.90" y="446.70" font-size="3.6" textLength="22.30" lengthAdjust="spacingAndGlyphs" fill="#444">18.7 (10.1-NE)</text>
<text x="458.40" y="446.70" font-size="3.6" textLength="28.10" lengthAdjust="spacingAndGlyphs" fill="#444">1.56 (0.69-3.49)</text>
<line x1="371.8" y1="453.1" x2="380.4" y2="453.1" stroke="#2f6aa3" stroke-width="1.2"/>
<text x="386.60" y="454.10" font-size="3.6" textLength="11.60" lengthAdjust="spacingAndGlyphs" fill="#444">&gt;=30.3</text>
<text x="412.70" y="454.10" font-size="3.6" textLength="7.60" lengthAdjust="spacingAndGlyphs" fill="#444">11/20</text>
<text x="432.30" y="454.10" font-size="3.6" textLength="21.90" lengthAdjust="spacingAndGlyphs" fill="#444">42.4 (13.8-NE)</text>
<text x="464.60" y="454.10" font-size="3.6" textLength="17.30" lengthAdjust="spacingAndGlyphs" fill="#444">Reference</text>
<text x="388.00" y="460.50" font-size="3.6" textLength="39.70" lengthAdjust="spacingAndGlyphs" fill="#444">Logrank P-value: 0.2803</text>
<text x="471.50" y="460.50" font-size="3.6" textLength="15.00" lengthAdjust="spacingAndGlyphs" fill="#444">+ Censor</text>
<path d="M298.40,433.40 302.70,433.40 302.70,438.70 313.00,438.70 313.00,445.50 320.30,445.50 320.30,451.90 329.20,451.90 329.20,458.40 340.80,458.40 340.80,465.30 363.80,465.30 363.80,471.90 364.60,471.90 364.60,478.10 382.80,478.10 382.80,484.70 401.50,484.70 401.50,491.20 425.75,491.20 425.75,497.30 429.10,497.30 429.10,504.40 483.10,504.40" fill="none" stroke="#2f6aa3" stroke-width="1.2"/>
<line x1="436.40" y1="502.90" x2="436.40" y2="505.90" stroke="#2f6aa3" stroke-width="1.1"/>
<line x1="475.30" y1="502.90" x2="475.30" y2="505.90" stroke="#2f6aa3" stroke-width="1.1"/>
<line x1="483.10" y1="502.90" x2="483.10" y2="505.90" stroke="#2f6aa3" stroke-width="1.1"/>
<path d="M298.40,433.40 310.50,433.40 310.50,439.20 321.50,439.20 321.50,445.90 322.30,445.90 322.30,452.80 325.20,452.80 325.20,460.10 329.20,460.10 329.20,466.60 331.20,466.60 331.20,473.50 336.10,473.50 336.10,480.40 345.40,480.40 345.40,487.30 353.40,487.30 353.40,494.20 355.80,494.20 355.80,501.20 374.60,501.20 374.60,507.90 386.20,507.90 386.20,515.10 404.30,515.10 404.30,521.90 483.10,521.90" fill="none" stroke="#d23c53" stroke-width="1.2"/>
<line x1="423.40" y1="520.40" x2="423.40" y2="523.40" stroke="#d23c53" stroke-width="1.1"/>
<line x1="433.80" y1="520.40" x2="433.80" y2="523.40" stroke="#d23c53" stroke-width="1.1"/>
<line x1="483.10" y1="520.40" x2="483.10" y2="523.40" stroke="#d23c53" stroke-width="1.1"/>
</svg></body></html>
